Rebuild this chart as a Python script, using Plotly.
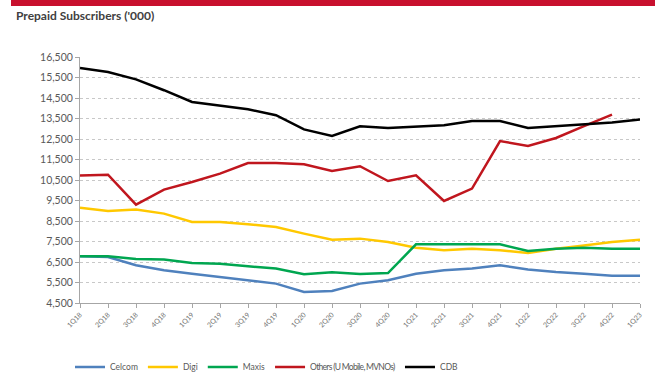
import plotly.graph_objects as go

quarters = ["1Q18", "2Q18", "3Q18", "4Q18", "1Q19", "2Q19", "3Q19", "4Q19",
            "1Q20", "2Q20", "3Q20", "4Q20", "1Q21", "2Q21", "3Q21", "4Q21",
            "1Q22", "2Q22", "3Q22", "4Q22", "1Q23"]

celcom = [6780, 6745, 6340, 6095, 5930, 5770, 5640, 5445, 5040, 5090, 5445,
          5610, 5930, 6095, 6180, 6340, 6130, 6010, 5930, 5830, 5830]
digi = [9150, 8990, 9055, 8860, 8450, 8450, 8340, 8210, 7885, 7590, 7640,
        7475, 7200, 7070, 7150, 7070, 6940, 7150, 7310, 7475, 7590]
maxis = [6780, 6780, 6650, 6620, 6450, 6420, 6290, 6180, 5900, 6000, 5920,
         5960, 7360, 7360, 7360, 7360, 7040, 7150, 7200, 7150, 7150]
others = [10720, 10760, 9300, 10030, 10400, 10810, 11330, 11330, 11270, 10940,
          11170, 10450, 10730, 9475, 10080, 12400, 12160, 12550, 13130, 13690, None]
cdb = [15960, 15770, 15410, 14880, 14305, 14140, 13950, 13660, 12970, 12650,
       13120, 13040, 13090, 13170, 13380, 13380, 13040, 13130, 13200, 13300, 13450]

y_ticks = list(range(4500, 16501, 1000))
y_tick_labels = [f"{v:,}" for v in y_ticks]

series = [
    ("Celcom", celcom, "#4F81BD"),
    ("Digi", digi, "#FFC800"),
    ("Maxis", maxis, "#00A650"),
    ("<span style='letter-spacing:-0.7px'>Others (U Mobile, MVNOs)</span>", others, "#C0161E"),
    ("CDB", cdb, "#000000"),
]

fig = go.Figure()
for name, vals, color in series:
    fig.add_trace(go.Scatter(
        x=quarters, y=vals, name=name, mode="lines",
        line=dict(color=color, width=2.5), connectgaps=False,
    ))

L, R, T, B = 80, 19, 57, 75
W, H = 659, 378
pw = W - L - R
ph = H - T - B

def px_to_paper_x(px):
    return (px - L) / pw

def px_to_paper_y(py):
    return (H - B - py) / ph

fig.update_layout(
    width=W, height=H,
    margin=dict(l=L, r=R, t=T, b=B, autoexpand=False),
    paper_bgcolor="white", plot_bgcolor="white",
    font=dict(family="Lato, Open Sans, sans-serif", color="#595959"),
    showlegend=True,
    legend=dict(
        orientation="h", x=px_to_paper_x(70), xanchor="left",
        y=px_to_paper_y(367), yanchor="middle",
        font=dict(size=8.5, color="#595959"),
        bgcolor="rgba(0,0,0,0)", tracegroupgap=0,
    ),
    xaxis=dict(
        type="category", range=[0, 20], automargin=False,
        showgrid=False, zeroline=False,
        showline=True, linecolor="#A6A6A6", linewidth=1,
        ticks="outside", ticklen=4, tickcolor="#A6A6A6",
        tickangle=-45, tickfont=dict(size=7, color="#737373"),
    ),
    yaxis=dict(
        range=[4500, 16500], automargin=False,
        tickvals=y_ticks, ticktext=y_tick_labels,
        showgrid=True, gridcolor="#C8C8C8", gridwidth=1, griddash="3px,3px",
        zeroline=False,
        showline=True, linecolor="#A6A6A6", linewidth=1,
        ticks="outside", ticklen=4, tickcolor="#A6A6A6",
        tickfont=dict(size=10.5, color="#595959"),
    ),
    shapes=[dict(
        type="rect", xref="paper", yref="paper",
        x0=px_to_paper_x(11), x1=px_to_paper_x(655),
        y0=px_to_paper_y(6), y1=px_to_paper_y(0),
        fillcolor="#C8102E", line=dict(width=0), layer="above",
    )],
    annotations=[dict(
        text="<b>Prepaid Subscribers ('000)</b>",
        xref="paper", yref="paper",
        x=px_to_paper_x(14), y=px_to_paper_y(16),
        xanchor="left", yanchor="middle", showarrow=False,
        font=dict(size=12, color="#404040", family="Lato, Open Sans, sans-serif"),
    )],
)

fig.write_html("out.html")
